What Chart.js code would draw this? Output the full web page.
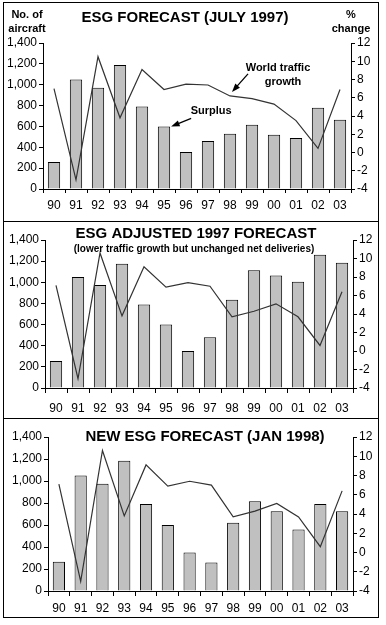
<!DOCTYPE html>
<html>
<head>
<meta charset="utf-8">
<script src="https://cdn.jsdelivr.net/npm/chart.js@4.4.1/dist/chart.umd.min.js"></script>
<style>
  body { margin: 0; background: #fff; }
  .panel { position: absolute; left: 3px; width: 374px; border: 1px solid #000; background: #fff; }
  .panel canvas { display: block; }
</style>
</head>
<body>
<div class="panel" style="top:2px;height:218px"><canvas id="c1" width="374" height="218"></canvas></div>
<div class="panel" style="top:221px;height:196px"><canvas id="c2" width="374" height="196"></canvas></div>
<div class="panel" style="top:418px;height:198px"><canvas id="c3" width="374" height="198"></canvas></div>
<script>
// years on the x axis
const years = ['90', '91', '92', '93', '94', '95', '96', '97', '98', '99', '00', '01', '02', '03'];

// surplus (no. of aircraft)
const surplusJul97 = [260, 1050, 970, 1190, 790, 600, 355, 460, 530, 615, 520, 490, 780, 665];
const surplusAdj97 = [255, 1050, 975, 1175, 790, 600, 350, 480, 835, 1115, 1065, 1005, 1260, 1185];
const surplusJan98 = [265, 1050, 975, 1185, 790, 600, 350, 260, 620, 815, 725, 560, 790, 725];

// world traffic growth (% change)
const growthJul97 = [7.0, -3.0, 10.5, 3.8, 9.1, 6.9, 7.5, 7.4, 6.2, 5.9, 5.3, 3.5, 0.45, 6.9];
const growthLower = [7.1, -3.0, 10.6, 3.8, 9.1, 6.9, 7.4, 7.0, 3.7, 4.3, 5.1, 3.7, 0.6, 6.4];

const FONT = "'Liberation Sans', Arial, sans-serif";

// free text + arrows drawn on top of each panel
const textPlugin = {
  id: 'panelText',
  afterDatasetsDraw(chart, args, opts) {
    const ctx = chart.ctx;
    ctx.save();
    ctx.fillStyle = '#000';
    ctx.textAlign = 'center';
    ctx.textBaseline = 'middle';
    (opts.texts || []).forEach(t => {
      ctx.font = t.font;
      ctx.fillText(t.text, t.x, t.y);
    });
    if (opts.arrows) opts.arrows(chart, ctx);
    ctx.restore();
  }
};

function arrow(ctx, x1, y1, x2, y2) {
  const a = Math.atan2(y2 - y1, x2 - x1);
  ctx.strokeStyle = '#000';
  ctx.lineWidth = 1.3;
  ctx.beginPath();
  ctx.moveTo(x1, y1);
  ctx.lineTo(x2 - 5 * Math.cos(a), y2 - 5 * Math.sin(a));
  ctx.stroke();
  ctx.beginPath();
  ctx.moveTo(x2, y2);
  ctx.lineTo(x2 - 9 * Math.cos(a - 0.35), y2 - 9 * Math.sin(a - 0.35));
  ctx.lineTo(x2 - 9 * Math.cos(a + 0.35), y2 - 9 * Math.sin(a + 0.35));
  ctx.closePath();
  ctx.fill();
}

function makeChart(id, bars, growth, box, texts, arrows) {
  const ctx = document.getElementById(id).getContext('2d');
  return new Chart(ctx, {
    data: {
      labels: years,
      datasets: [{
        type: 'line',
        label: 'World traffic growth',
        data: growth,
        yAxisID: 'y1',
        borderColor: '#333',
        borderWidth: 1.2,
        pointRadius: 0,
        tension: 0,
        order: 0
      }, {
        type: 'bar',
        label: 'Surplus',
        data: bars,
        yAxisID: 'y',
        backgroundColor: '#c0c0c0',
        borderColor: '#000',
        borderWidth: 1,
        categoryPercentage: 1,
        barPercentage: 0.56,
        order: 1
      }]
    },
    plugins: [textPlugin],
    options: {
      responsive: false,
      animation: false,
      layout: { padding: { top: box.top, left: 0, right: 0, bottom: 0 } },
      plugins: {
        legend: { display: false },
        tooltip: { enabled: false },
        panelText: { texts: texts, arrows: arrows }
      },
      scales: {
        x: {
          offset: true,
          grid: { display: true, offset: true, drawOnChartArea: false, tickLength: box.xTick, color: '#000' },
          border: { color: '#000', width: 1 },
          ticks: { color: '#000', padding: box.xPad, font: { family: FONT, size: 12 }, maxRotation: 0, autoSkip: false },
          afterFit: s => { s.height = box.xH; }
        },
        y: {
          position: 'left',
          min: 0, max: 1400,
          grid: { drawOnChartArea: false, tickLength: 4, color: '#000' },
          border: { color: '#000', width: 1 },
          ticks: { stepSize: 200, color: '#000', padding: 2, font: { family: FONT, size: 12 } },
          afterFit: s => { s.width = box.left; }
        },
        y1: {
          position: 'right',
          min: -4, max: 12,
          grid: { drawOnChartArea: false, tickLength: 4, color: '#000' },
          border: { color: '#000', width: 1 },
          ticks: { stepSize: 2, color: '#000', padding: 2, font: { family: FONT, size: 12 } },
          afterFit: s => { s.width = box.right; }
        }
      }
    }
  });
}

// Panel 1 - July 1997 forecast
makeChart('c1', surplusJul97, growthJul97,
  { top: 40, left: 39, right: 27, xH: 32, xTick: 4, xPad: 5 },
  [
    { text: 'ESG FORECAST (JULY 1997)', x: 181, y: 15, font: 'bold 15px ' + FONT },
    { text: 'No. of', x: 23, y: 12, font: 'bold 11px ' + FONT },
    { text: 'aircraft', x: 23, y: 26, font: 'bold 11px ' + FONT },
    { text: '%', x: 347, y: 12, font: 'bold 11px ' + FONT },
    { text: 'change', x: 347, y: 26, font: 'bold 11px ' + FONT }
  ],
  (chart, ctx) => {
    const bar = chart.getDatasetMeta(1).data[5];
    const bx = bar.x + bar.width / 2 + 1, by = bar.y;
    arrow(ctx, bx + 20, by - 8, bx, by);
    ctx.font = 'bold 11px ' + FONT;
    ctx.fillText('Surplus', bx + 40, by - 15);
    const pt = chart.getDatasetMeta(0).data[8];
    const px = pt.x + 2, py = pt.y - 4;
    arrow(ctx, px + 16, py - 18, px, py);
    ctx.fillText('World traffic', px + 46, py - 24);
    ctx.fillText('growth', px + 51, py - 10);
  });

// Panel 2 - adjusted 1997 forecast
makeChart('c2', surplusAdj97, growthLower,
  { top: 18, left: 41, right: 25, xH: 30, xTick: 5, xPad: 8 },
  [
    { text: 'ESG ADJUSTED 1997 FORECAST', x: 192, y: 12, font: 'bold 15px ' + FONT },
    { text: '(lower traffic growth but unchanged net deliveries)', x: 190, y: 27, font: 'bold 10px ' + FONT }
  ]);

// Panel 3 - Jan 1998 forecast
makeChart('c3', surplusJan98, growthLower,
  { top: 18, left: 44, right: 25, xH: 26, xTick: 5, xPad: 5 },
  [
    { text: 'NEW ESG FORECAST (JAN 1998)', x: 201, y: 18, font: 'bold 15px ' + FONT }
  ]);
</script>
</body>
</html>
